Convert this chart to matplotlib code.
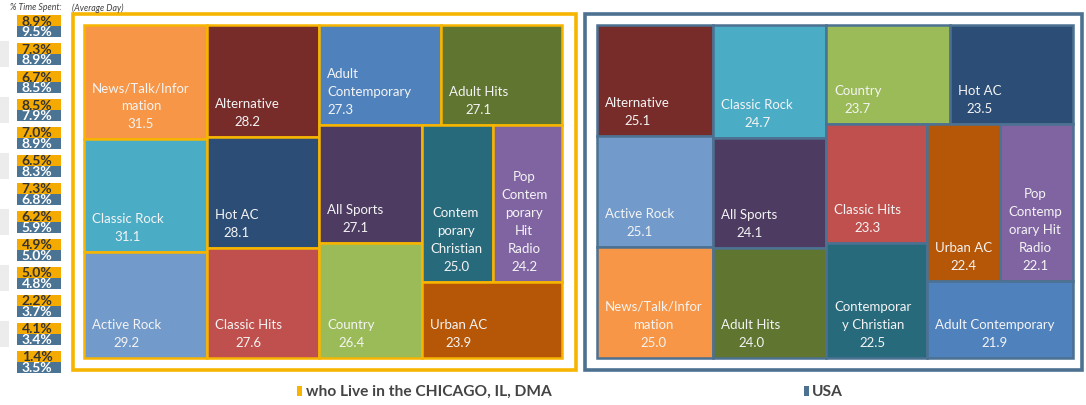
import matplotlib.pyplot as plt
from matplotlib.patches import Rectangle

plt.rcParams["font.family"] = ["Lato", "DejaVu Sans"]

# genres in the order the treemap places them (largest first)
chi_genres = ["News/Talk/Information", "Classic Rock", "Active Rock", "Alternative", "Hot AC",
              "Classic Hits", "Adult Contemporary", "Adult Hits", "All Sports", "Country",
              "Contemporary Christian", "Pop Contemporary Hit Radio", "Urban AC"]
chi_labels = ["News/Talk/Infor\nmation", "Classic Rock", "Active Rock", "Alternative", "Hot AC",
              "Classic Hits", "Adult\nContemporary", "Adult Hits", "All Sports", "Country",
              "Contem\nporary\nChristian", "Pop\nContem\nporary\nHit\nRadio", "Urban AC"]
chi_values = [31.5, 31.1, 29.2, 28.2, 28.1, 27.6, 27.3, 27.1, 27.1, 26.4, 25.0, 24.2, 23.9]

usa_genres = ["Alternative", "Active Rock", "News/Talk/Information", "Classic Rock", "All Sports",
              "Adult Hits", "Country", "Hot AC", "Classic Hits", "Contemporary Christian",
              "Urban AC", "Pop Contemporary Hit Radio", "Adult Contemporary"]
usa_labels = ["Alternative", "Active Rock", "News/Talk/Infor\nmation", "Classic Rock", "All Sports",
              "Adult Hits", "Country", "Hot AC", "Classic Hits", "Contemporar\ny Christian",
              "Urban AC", "Pop\nContemp\norary Hit\nRadio", "Adult Contemporary"]
usa_values = [25.1, 25.1, 25.0, 24.7, 24.1, 24.0, 23.7, 23.5, 23.3, 22.5, 22.4, 22.1, 21.9]

# % time spent (average day), Chicago DMA vs USA
chi_pct = [8.9, 7.3, 6.7, 8.5, 7.0, 6.5, 7.3, 6.2, 4.9, 5.0, 2.2, 4.1, 1.4]
usa_pct = [9.5, 8.9, 8.5, 7.9, 8.9, 8.3, 6.8, 5.9, 5.0, 4.8, 3.7, 3.4, 3.5]

genre_colors = {
    "News/Talk/Information": "#F79646", "Alternative": "#772C2A", "Adult Contemporary": "#4F81BD",
    "Adult Hits": "#5F7530", "Classic Rock": "#4BACC6", "Hot AC": "#2C4D75",
    "All Sports": "#4D3B62", "Contemporary Christian": "#276A7C",
    "Pop Contemporary Hit Radio": "#8064A2", "Active Rock": "#729ACA",
    "Classic Hits": "#C0504D", "Country": "#9BBB59", "Urban AC": "#B65708",
}

GOLD = "#F7B500"
STEEL = "#4C7191"


def squarish(values, groups, x, y, w, h):
    # slice-and-dice along the shorter side, group sizes as Excel chose them
    scale = w * h / sum(values)
    rects = []
    i = 0
    for n in groups:
        vals = values[i:i + n]
        area = sum(vals) * scale
        if w >= h:
            cw = area / h
            yy = y
            for v in vals:
                rh = v * scale / cw
                rects.append((x, yy, cw, rh))
                yy += rh
            x += cw
            w -= cw
        else:
            rh = area / w
            xx = x
            for v in vals:
                rw = v * scale / rh
                rects.append((xx, y, rw, rh))
                xx += rw
            y += rh
            h -= rh
        i += n
    return rects


def draw_treemap(ax, genres, labels, values, box, edge, left_labels=()):
    x, y, w, h = box
    rects = squarish(values, [3, 3, 2, 2, 2, 1], x, y, w, h)
    for (rx, ry, rw, rh), g, lab, v in zip(rects, genres, labels, values):
        ax.add_patch(Rectangle((rx, ry), rw, rh, facecolor=genre_colors[g],
                               edgecolor=edge, linewidth=1.8))
        align = "left" if g in left_labels else "center"
        ax.text(rx + 8, ry + rh - 10, f"{lab}\n{v:.1f}", color="#F4F4F4", fontsize=9.5,
                ha="left", va="bottom", multialignment=align, linespacing=1.6)


fig = plt.figure(figsize=(10.86, 4.06), dpi=100)
ax = fig.add_axes([0, 0, 1, 1])
ax.set_xlim(0, 1086)
ax.set_ylim(406, 0)
ax.axis("off")

# left column of percentages
ax.text(10, 8, "% Time Spent:", fontsize=6.3, style="italic", color="#404040", va="center")
ax.text(72, 8, "(Average Day)", fontsize=6.3, style="italic", color="#404040", va="center")
for i, (c, u) in enumerate(zip(chi_pct, usa_pct)):
    top = 16 + i * 28
    if i % 2 == 1:
        ax.add_patch(Rectangle((0, top - 2), 9, 26, facecolor="#ECECEC", edgecolor="none"))
    ax.add_patch(Rectangle((17, top), 44, 11, facecolor="#F5AA00", edgecolor="none"))
    ax.add_patch(Rectangle((17, top + 11), 44, 11, facecolor="#4A7394", edgecolor="none"))
    ax.text(37, top + 5.5, f"{c:.1f}%", fontsize=10, color="#333333", ha="center", va="center",
            fontweight="bold")
    ax.text(37, top + 16.5, f"{u:.1f}%", fontsize=10, color="white", ha="center", va="center",
            fontweight="bold")

# frames
ax.add_patch(Rectangle((73, 15), 503, 356, facecolor="white", edgecolor=GOLD, linewidth=2.6))
ax.add_patch(Rectangle((585, 15), 497, 356, facecolor="white", edgecolor=STEEL, linewidth=2.6))

draw_treemap(ax, chi_genres, chi_labels, chi_values, (84, 26, 478, 333), GOLD,
             left_labels=("Adult Contemporary",))
draw_treemap(ax, usa_genres, usa_labels, usa_values, (597, 26, 476, 333), STEEL)

# legend
ax.add_patch(Rectangle((297, 387), 5, 10, facecolor=GOLD, edgecolor="none"))
ax.text(306, 392, "who Live in the CHICAGO, IL, DMA", fontsize=11.2, fontweight="bold",
        color="#444444", va="center")
ax.add_patch(Rectangle((804, 387), 5, 10, facecolor=STEEL, edgecolor="none"))
ax.text(812, 392, "USA", fontsize=11.2, fontweight="bold", color="#444444", va="center")

fig.savefig("out.png", dpi=100)
